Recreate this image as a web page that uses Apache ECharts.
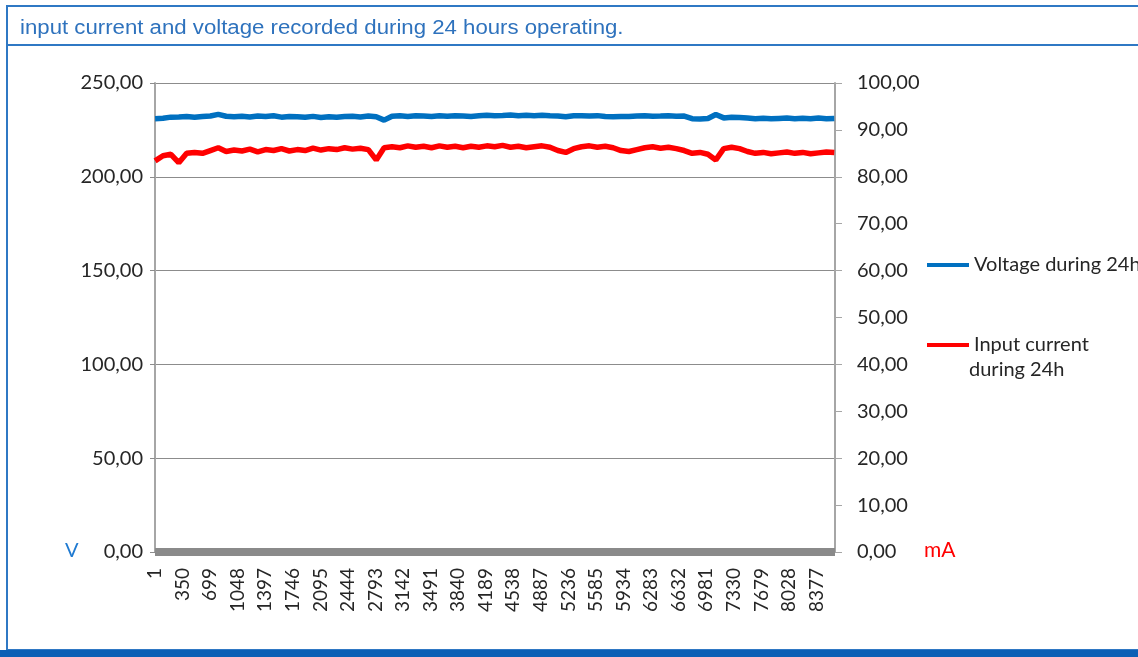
<!DOCTYPE html>
<html>
<head>
<meta charset="utf-8">
<script src="https://cdn.jsdelivr.net/npm/echarts@6/dist/echarts.min.js"></script>
<style>
html,body{margin:0;padding:0;background:#fff;}
#chart{width:1138px;height:657px;}
</style>
</head>
<body>
<div id="chart"></div>
<script>
const sampleNumbers = [
  1,101,201,301,401,501,601,701,801,901,
  1001,1101,1201,1301,1401,1501,1601,1701,1801,1901,
  2001,2101,2201,2301,2401,2501,2601,2701,2801,2901,
  3001,3101,3201,3301,3401,3501,3601,3701,3801,3901,
  4001,4101,4201,4301,4401,4501,4601,4701,4801,4901,
  5001,5101,5201,5301,5401,5501,5601,5701,5801,5901,
  6001,6101,6201,6301,6401,6501,6601,6701,6801,6901,
  7001,7101,7201,7301,7401,7501,7601,7701,7801,7901,
  8001,8101,8201,8301,8401,8501,8601
];
// Voltage during 24h (V, left axis)
const voltage = [
  231.0,231.2,231.8,231.9,232.1,231.8,232.2,232.4,233.3,232.3,
  232.0,232.3,231.9,232.4,232.1,232.5,231.8,232.2,232.0,231.7,
  232.2,231.6,232.0,231.7,232.1,232.3,231.9,232.4,232.0,230.2,
  232.3,232.5,232.2,232.6,232.4,232.2,232.5,232.3,232.6,232.4,
  232.2,232.5,232.8,232.6,232.7,232.9,232.5,232.8,232.6,232.8,
  232.5,232.4,232.0,232.5,232.6,232.4,232.6,232.1,232.0,232.2,
  232.1,232.4,232.5,232.3,232.4,232.6,232.3,232.4,231.0,230.8,
  231.1,233.2,231.4,231.8,231.6,231.3,231.0,231.2,230.9,231.1,
  231.3,231.0,231.2,231.0,231.3,231.0,231.1
];
// Input current during 24h (mA, right axis)
const current = [
  83.4,84.5,84.8,83.0,85.0,85.2,85.0,85.6,86.2,85.4,
  85.7,85.5,85.9,85.3,85.8,85.6,86.0,85.5,85.8,85.6,
  86.1,85.7,86.0,85.8,86.2,85.9,86.1,85.8,83.6,86.2,
  86.4,86.2,86.6,86.3,86.5,86.2,86.6,86.3,86.5,86.2,
  86.5,86.3,86.6,86.4,86.7,86.3,86.5,86.2,86.4,86.6,
  86.3,85.6,85.2,86.0,86.4,86.6,86.3,86.5,86.2,85.6,
  85.4,85.8,86.2,86.4,86.1,86.3,86.0,85.6,85.0,85.2,
  84.8,83.6,86.0,86.3,86.0,85.4,85.0,85.2,84.9,85.1,
  85.3,85.0,85.2,84.9,85.1,85.3,85.2
];
const seriesNames = ['Voltage during 24h', 'Input current during 24h'];
const titleText = 'input current and voltage recorded during 24 hours operating.';
const xTickStep = 349;   // category label step: 1, 350, 699, ...

const fmt = v => v.toFixed(2).replace('.', ',');
const vData = sampleNumbers.map((s, i) => [s, voltage[i]]);
const cData = sampleNumbers.map((s, i) => [s, current[i]]);

const FONT = 'Lato';
const chart = echarts.init(document.getElementById('chart'), null, {renderer: 'canvas'});
chart.setOption({
  backgroundColor: '#ffffff',
  animation: false,
  grid: {left: 155, right: 303, top: 83, bottom: 105, containLabel: false},
  xAxis: {
    type: 'value', min: 0, max: 8610, interval: xTickStep,
    offset: 4,
    axisLine: {show: true, lineStyle: {color: '#8a8a8a', width: 8, cap: 'butt'}},
    axisTick: {show: false},
    splitLine: {show: false},
    axisLabel: {
      rotate: 90, margin: 12, color: '#262626', fontFamily: FONT, fontSize: 19,
      showMaxLabel: false,
      formatter: v => (v % xTickStep === 0 ? String(v + 1) : '')
    }
  },
  yAxis: [
    {
      type: 'value', min: 0, max: 250, interval: 50, position: 'left',
      axisLine: {show: true, lineStyle: {color: '#a6a6a6', width: 2}},
      axisTick: {show: true, length: 5, lineStyle: {color: '#8c8c8c'}},
      splitLine: {show: true, lineStyle: {color: '#8c8c8c', width: 1}},
      axisLabel: {margin: 12, color: '#262626', fontFamily: FONT, fontSize: 20, formatter: fmt}
    },
    {
      type: 'value', min: 0, max: 100, interval: 10, position: 'right',
      axisLine: {show: true, lineStyle: {color: '#a6a6a6', width: 2}},
      axisTick: {show: true, length: 7, lineStyle: {color: '#a6a6a6'}},
      splitLine: {show: false},
      axisLabel: {margin: 22, color: '#262626', fontFamily: FONT, fontSize: 20, formatter: fmt}
    }
  ],
  legend: [
    {
      orient: 'vertical', left: 922, top: 248, data: [seriesNames[0]],
      icon: 'rect', itemWidth: 42, itemHeight: 4,
      textStyle: {fontFamily: FONT, fontSize: 20, color: '#262626', lineHeight: 24}
    },
    {
      orient: 'vertical', left: 922, top: 328, data: [seriesNames[1]],
      icon: 'rect', itemWidth: 42, itemHeight: 4,
      formatter: () => 'Input current',
      textStyle: {fontFamily: FONT, fontSize: 20, color: '#262626', lineHeight: 24}
    }
  ],
  series: [
    {
      name: seriesNames[0], type: 'line', yAxisIndex: 0, data: vData,
      showSymbol: false, symbol: 'none',
      lineStyle: {color: '#0070c0', width: 5.5}, itemStyle: {color: '#0070c0'}
    },
    {
      name: seriesNames[1], type: 'line', yAxisIndex: 1, data: cData,
      showSymbol: false, symbol: 'none',
      lineStyle: {color: '#ff0000', width: 5.5}, itemStyle: {color: '#ff0000'}
    }
  ],
  graphic: [
    {type: 'rect', silent: true, z: -10,
      shape: {x: 7, y: 6, width: 1140, height: 644},
      style: {fill: 'none', stroke: '#2f78c4', lineWidth: 2}},
    {type: 'line', silent: true, z: -10,
      shape: {x1: 7, y1: 45, x2: 1138, y2: 45},
      style: {stroke: '#2f78c4', lineWidth: 2}},
    {type: 'rect', silent: true,
      shape: {x: 0, y: 650, width: 1138, height: 7},
      style: {fill: '#0b5fb5'}},
    {type: 'text', left: 20, top: 18, scaleX: 1.11,
      style: {text: titleText, fill: '#2e72bd', font: '20px "Liberation Sans", Arial, sans-serif'}},
    {type: 'text', left: 65, top: 541,
      style: {text: 'V', fill: '#1f7ad1', font: '20px Lato, sans-serif'}},
    {type: 'text', left: 924, top: 540,
      style: {text: 'mA', fill: '#ff0000', font: '21px Lato, sans-serif'}},
    {type: 'text', left: 969, top: 360,
      style: {text: 'during 24h', fill: '#262626', font: '20px Lato, sans-serif'}}
  ]
});
</script>
</body>
</html>
